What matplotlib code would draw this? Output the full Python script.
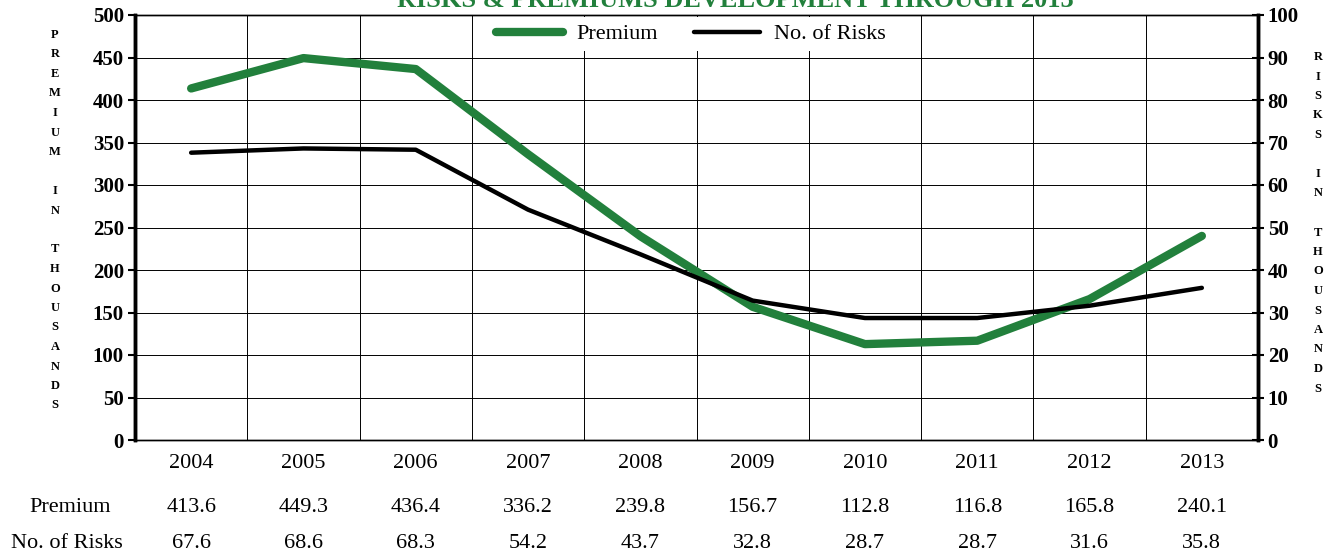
import matplotlib.pyplot as plt
import matplotlib.transforms as mtransforms

# data
years = ['2004', '2005', '2006', '2007', '2008', '2009', '2010', '2011', '2012', '2013']
premium = [413.6, 449.3, 436.4, 336.2, 239.8, 156.7, 112.8, 116.8, 165.8, 240.1]
risks = [67.6, 68.6, 68.3, 54.2, 43.7, 32.8, 28.7, 28.7, 31.6, 35.8]
premium_labels = ['413.6', '449.3', '436.4', '336.2', '239.8', '156.7', '112.8', '116.8', '165.8', '240.1']
risks_labels = ['67.6', '68.6', '68.3', '54.2', '43.7', '32.8', '28.7', '28.7', '31.6', '35.8']

GREEN = '#22803c'
W, H = 1333, 556

plt.rcParams['font.family'] = ['Liberation Serif', 'DejaVu Serif']

fig = plt.figure(figsize=(W / 100, H / 100), dpi=100)
ax = fig.add_axes([135 / W, 1 - 440 / H, (1258 - 135) / W, (440 - 15) / H])
ax2 = ax.twinx()

x = list(range(len(years)))
l1, = ax.plot(x, premium, color=GREEN, lw=6, solid_capstyle='round', label='Premium', zorder=3)
l2, = ax2.plot(x, risks, color='black', lw=3.2, solid_capstyle='round', label='No. of Risks', zorder=3)

ax.set_xlim(-0.5, 9.5)
ax.set_ylim(0, 500)
ax2.set_ylim(0, 100)
ax.set_yticks(range(0, 501, 50))
ax2.set_yticks(range(0, 101, 10))

# grid: horizontal at every 50, vertical between categories
ax.set_xticks([i + 0.5 for i in range(9)], minor=True)
ax.set_xticks(x)
ax.set_xticklabels([])
ax.tick_params(axis='x', which='both', length=0)
ax.grid(axis='y', color='black', lw=0.7)
ax.grid(axis='x', which='minor', color='black', lw=0.7)
ax.set_axisbelow(True)

ax.tick_params(axis='y', direction='out', length=5, width=1.5, labelsize=15, pad=3)
ax2.tick_params(axis='y', direction='inout', length=8, width=1.5, labelsize=15, pad=3)
for lab in ax.get_yticklabels() + ax2.get_yticklabels():
    lab.set_fontweight('bold')

for a in (ax, ax2):
    a.spines['left'].set_linewidth(2.5)
    a.spines['right'].set_linewidth(2.5)
    a.spines['top'].set_linewidth(1)
    a.spines['bottom'].set_linewidth(1)

leg = ax2.legend([l1, l2], ['Premium', 'No. of Risks'], loc='upper center',
                 bbox_to_anchor=(0.495, 1.0), ncol=2, frameon=True, fontsize=16,
                 handlelength=3.0, columnspacing=1.6, handletextpad=0.6,
                 borderaxespad=0.1, borderpad=0.3)
leg.get_frame().set_edgecolor('none')
leg.get_frame().set_facecolor('white')
leg.get_frame().set_alpha(1)

# title, cut off at the top edge like in the source
fig.text(735 / W, 1 - 7 / H, 'RISKS & PREMIUMS DEVELOPMENT THROUGH 2013',
         color=GREEN, fontsize=19, fontweight='bold', ha='center', va='baseline')

# data table below the plot
trans = mtransforms.blended_transform_factory(ax.transData, fig.transFigure)
for i in x:
    ax.text(i, 1 - 463 / H, years[i], transform=trans, ha='center', va='center', fontsize=16)
    ax.text(i, 1 - 508 / H, premium_labels[i], transform=trans, ha='center', va='center', fontsize=16)
    ax.text(i, 1 - 544 / H, risks_labels[i], transform=trans, ha='center', va='center', fontsize=16)
fig.text(70 / W, 1 - 508 / H, 'Premium', ha='center', va='center', fontsize=16)
fig.text(67 / W, 1 - 544 / H, 'No. of Risks', ha='center', va='center', fontsize=16)

# vertical stacked axis titles
left_title = 'PREMIUM IN THOUSANDS'
right_title = 'RISKS IN THOUSANDS'
step = 19.5
for k, ch in enumerate(left_title):
    fig.text(55 / W, 1 - (35 + k * step) / H, ch, ha='center', va='center',
             fontsize=9, fontweight='bold')
for k, ch in enumerate(right_title):
    fig.text(1318 / W, 1 - (57 + k * step) / H, ch, ha='center', va='center',
             fontsize=9, fontweight='bold')

fig.savefig('out.png', dpi=100)
